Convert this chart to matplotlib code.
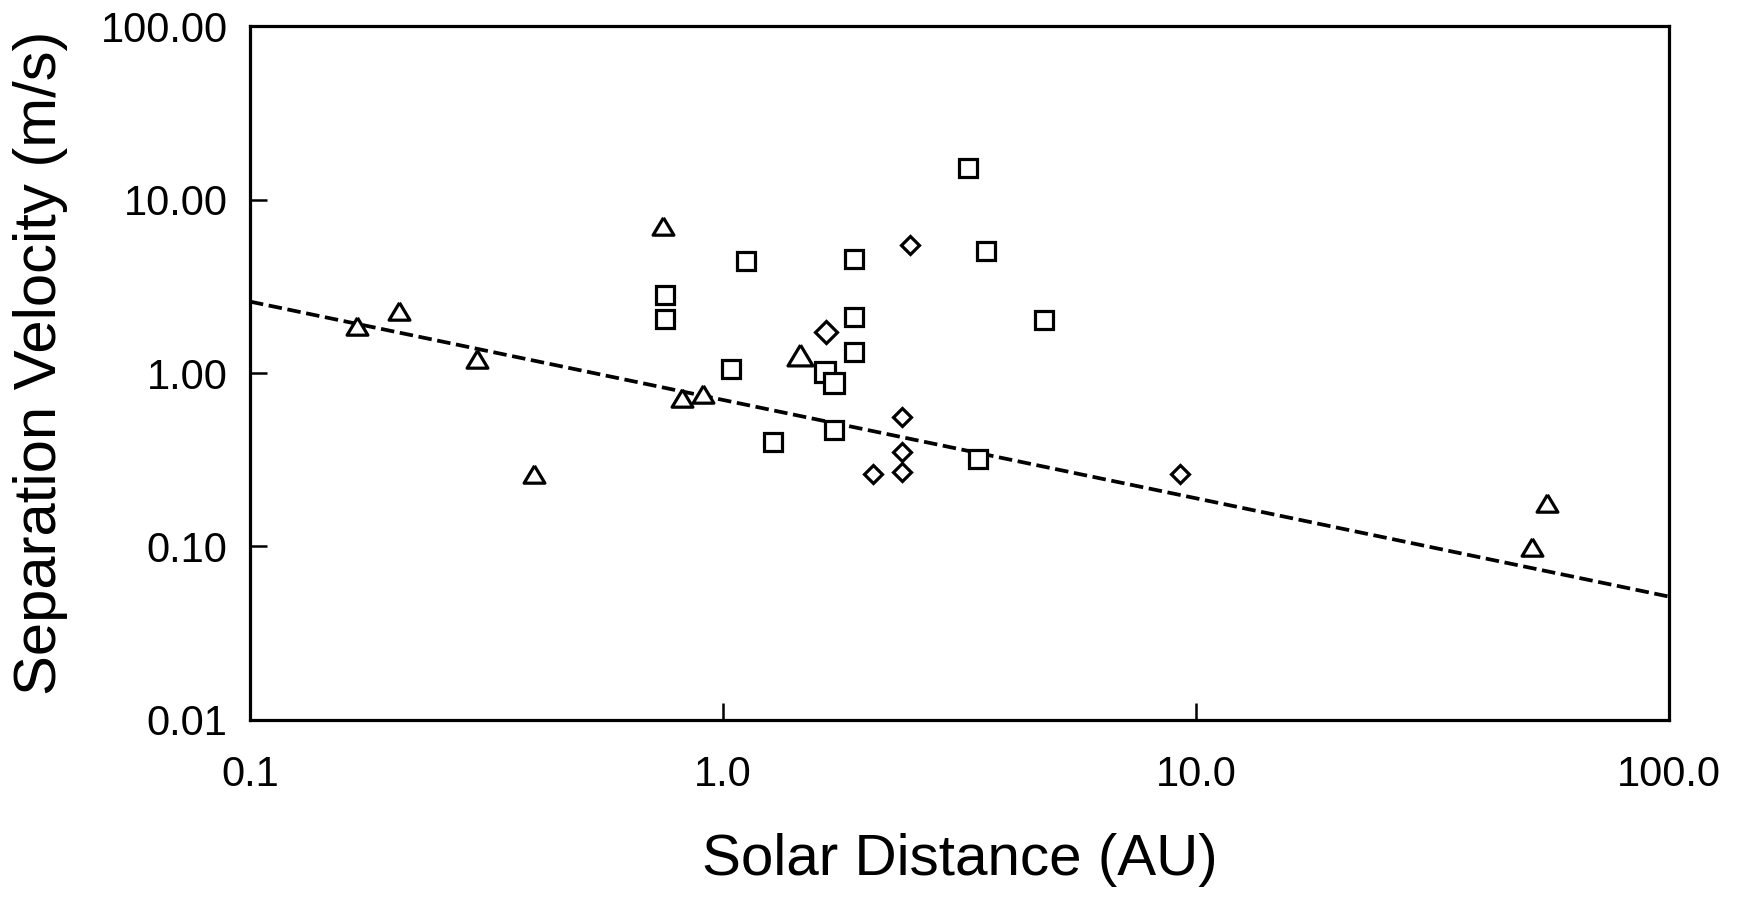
import numpy as np
import matplotlib
matplotlib.use('Agg')
import matplotlib.pyplot as plt
from matplotlib.ticker import FixedLocator, FormatStrFormatter, NullLocator

# triangles
tri_x = [0.168, 0.207, 0.302, 0.398, 0.748, 0.821, 0.909, 51.3, 55.1]
tri_y = [1.87, 2.27, 1.21, 0.263, 7.04, 0.72, 0.753, 0.099, 0.178]
tri_big_x = [1.453]
tri_big_y = [1.278]

# squares
sq_x = [0.753, 0.753, 1.116, 1.04, 1.277, 1.892, 1.892, 1.892, 1.718, 3.30, 3.595, 3.46, 4.76]
sq_y = [2.83, 2.05, 4.40, 1.056, 0.40, 4.53, 2.11, 1.316, 0.470, 15.1, 5.02, 0.321, 2.02]
sq_big_x = [1.645, 1.718]
sq_big_y = [1.01, 0.872]

# diamonds
dia_x = [2.484, 2.386, 2.386, 2.386, 2.078, 9.24]
dia_y = [5.46, 0.555, 0.352, 0.270, 0.262, 0.261]
dia_big_x = [1.651]
dia_big_y = [1.73]

# fitted trend line (end points)
fit_x = [0.1, 100.0]
fit_y = [2.58, 0.0514]

xticks = [0.1, 1.0, 10.0, 100.0]
yticks = [0.01, 0.1, 1.0, 10.0, 100.0]

tri_marker = [(0, 1), (-1.2, -1), (1.2, -1), (0, 1)]

fig = plt.figure(figsize=(17.37, 9.07), dpi=100)
ax = fig.add_axes([0.1439, 0.2062, 0.9609 - 0.1439, 0.9713 - 0.2062])

ax.plot(fit_x, fit_y, color='k', lw=2.7, dashes=[3.6, 1.5])

mk = dict(ls='none', mfc='white', mec='k', mew=2.3)
ax.plot(tri_x, tri_y, marker=tri_marker, ms=15, **mk)
ax.plot(tri_big_x, tri_big_y, marker=tri_marker, ms=18, **mk)
ax.plot(sq_x, sq_y, marker='s', ms=12.5, **mk)
ax.plot(sq_big_x, sq_big_y, marker='s', ms=14.5, **mk)
ax.plot(dia_x, dia_y, marker='D', ms=9, **mk)
ax.plot(dia_big_x, dia_big_y, marker='D', ms=11, **mk)

ax.set_xscale('log')
ax.set_yscale('log')
ax.set_xlim(0.1, 100)
ax.set_ylim(0.01, 100)

ax.xaxis.set_major_locator(FixedLocator(xticks))
ax.yaxis.set_major_locator(FixedLocator(yticks))
ax.xaxis.set_minor_locator(NullLocator())
ax.yaxis.set_minor_locator(NullLocator())
ax.xaxis.set_major_formatter(FormatStrFormatter('%.1f'))
ax.yaxis.set_major_formatter(FormatStrFormatter('%.2f'))

for axis in ['top', 'bottom', 'left', 'right']:
    ax.spines[axis].set_linewidth(2.3)
ax.tick_params(direction='in', length=12, width=1.8, colors='k')
ax.tick_params(axis='x', labelsize=30, pad=25)
ax.tick_params(axis='y', labelsize=30, pad=16)
for lab in ax.get_xticklabels() + ax.get_yticklabels():
    lab.set_family(['Liberation Sans', 'DejaVu Sans'])

lab_font = ['Liberation Sans', 'DejaVu Sans']
ax.set_xlabel('Solar Distance (AU)', fontsize=42, family=lab_font)
ax.set_ylabel('Separation Velocity (m/s)', fontsize=43, family=lab_font)
ax.xaxis.label.set_verticalalignment('baseline')
ax.yaxis.label.set_verticalalignment('center')
ax.xaxis.set_label_coords(0.5, -0.2233)
ax.yaxis.set_label_coords(-0.1473, 0.515)

fig.savefig('out.png', dpi=100)
